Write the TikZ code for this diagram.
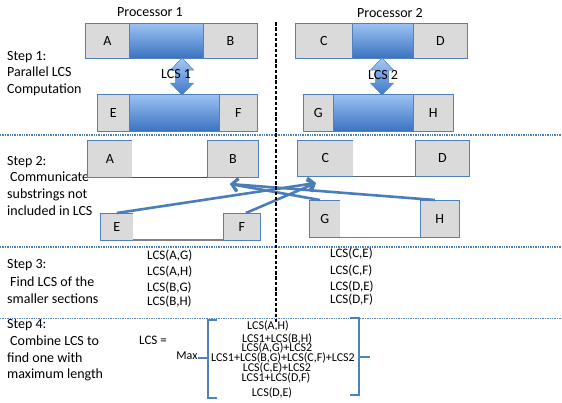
\documentclass[tikz,border=0pt]{standalone}
\usepackage{fontspec}
\setmainfont{Carlito}
\usetikzlibrary{arrows.meta}
\definecolor{boxblue}{HTML}{4F81BD}
\definecolor{granite}{HTML}{DADADA}
\definecolor{bartop}{HTML}{9CC2F2}
\definecolor{barbot}{HTML}{3A72C0}
\definecolor{sepblue}{HTML}{4F81BD}
\definecolor{arrblue}{HTML}{4A7EBB}
\definecolor{arrtop}{HTML}{A4C8F4}
\definecolor{arrbot}{HTML}{3F78C6}
\begin{document}
\begin{tikzpicture}[x=1pt,y=-1pt,
  sz/.style 2 args={minimum width=#1pt, minimum height=#2pt},
  seg/.style={draw=boxblue, line width=0.7pt, inner sep=0pt, anchor=north west,
    font=\fontsize{14}{16}\selectfont},
  gseg/.style={seg, fill=granite},
  bseg/.style={seg, top color=bartop, bottom color=barbot},
  wseg/.style={inner sep=0pt, anchor=north west, fill=white},
  txt/.style={inner sep=0pt, anchor=west, text height=9.5pt, text depth=3pt,
    font=\fontsize{14}{16}\selectfont},
  ctxt/.style={inner sep=0pt, text height=9.5pt, text depth=3pt,
    font=\fontsize{14}{16}\selectfont},
  itm/.style={inner sep=0pt, anchor=west, text height=9pt, text depth=2.5pt,
    font=\fontsize{13}{15}\selectfont},
  frm/.style={inner sep=0pt, text height=8.5pt, text depth=2.5pt,
    font=\fontsize{12}{13}\selectfont},
  sep/.style={draw=sepblue, line width=1.8pt, dash pattern=on 1.4pt off 1pt},
  comm/.style={draw=arrblue, line width=2.6pt, -{Straight Barb[length=6pt,width=13pt]}},
  brk/.style={draw=boxblue, line width=2.6pt},
  dblarr/.pic={
    \shade[top color=arrtop, bottom color=arrbot, draw=boxblue, line width=0.5pt]
      (0,0) -- (11.5,12) -- (6.5,12) -- (6.5,25) -- (11.5,25) -- (0,37)
      -- (-11.5,25) -- (-6.5,25) -- (-6.5,12) -- (-11.5,12) -- cycle;
  }
]
\useasboundingbox (0,0) rectangle (562,402);

% separators
\draw[sep] (0,135) -- (562,135);
\draw[sep] (0,247) -- (562,247);
\draw[sep] (0,318.5) -- (562,318.5);

% processor headings
\node[ctxt] (p1) at (150,13) {Processor 1};
\node[ctxt] (p2) at (390,14) {Processor 2};

% step labels
\node[txt] (s1a) at (7,57) {Step 1:};
\node[txt] (s1b) at (7,73) {Parallel LCS};
\node[txt] (s1c) at (7,90) {Computation};
\node[txt] (s2a) at (7,162) {Step 2:};
\node[txt] (s2b) at (10,178) {Communicate};
\node[txt] (s2c) at (7,195) {substrings not};
\node[txt] (s2d) at (7,212) {included in LCS};
\node[txt] (s3a) at (7,265) {Step 3:};
\node[txt] (s3b) at (10,283) {Find LCS of the};
\node[txt] (s3c) at (7,300) {smaller sections};
\node[txt] (s4a) at (7,325) {Step 4:};
\node[txt] (s4b) at (10,342) {Combine LCS to};
\node[txt] (s4c) at (7,359) {find one with};
\node[txt] (s4d) at (7,375) {maximum length};

% step 1 boxes, processor 1
\node[gseg, sz={44}{35}] (a1) at (85,23) {A};
\node[bseg, sz={74}{35}] (m1) at (129,23) {};
\node[gseg, sz={54}{35}] (b1) at (203,23) {B};
\node[gseg, sz={32}{37}] (e1) at (97,94) {E};
\node[bseg, sz={90}{37}] (n1) at (129,94) {};
\node[gseg, sz={38}{37}] (f1) at (219,94) {F};
% step 1 boxes, processor 2
\node[gseg, sz={57}{35}] (c1) at (295,23) {C};
\node[bseg, sz={61}{35}] (m2) at (352,23) {};
\node[gseg, sz={54}{35}] (d1) at (413,23) {D};
\node[gseg, sz={30}{37}] (g1) at (303,94) {G};
\node[bseg, sz={80}{37}] (n2) at (333,94) {};
\node[gseg, sz={40}{37}] (h1) at (413,94) {H};

% double arrows
\pic at (182,58) {dblarr};
\pic at (382,58) {dblarr};
\node[ctxt] (l1) at (176,75) {LCS 1};
\node[ctxt] (l2) at (383,76) {LCS 2};

% step 2 boxes
\node[gseg, sz={45}{37}] (a2) at (87,140) {A};
\node[wseg, sz={75}{37}] (w1) at (132,140) {};
\node[gseg, sz={51}{37}] (b2) at (207,140) {B};
\node[gseg, sz={33}{27}] (e2) at (100,213) {E};
\node[wseg, sz={90}{27}] (w2) at (133,213) {};
\node[gseg, sz={37}{27}] (f2) at (223,213) {F};
\node[gseg, sz={56}{36}] (c2) at (297,140) {C};
\node[wseg, sz={62}{36}] (w3) at (353,140) {};
\node[gseg, sz={54}{36}] (d2) at (415,140) {D};
\node[gseg, sz={31}{37}] (g2) at (309,200) {G};
\node[wseg, sz={80}{37}] (w4) at (340,200) {};
\node[gseg, sz={39}{37}] (h2) at (420,200) {H};
\draw[black!70, line width=0.8pt] (w1.south west) -- (w1.south east);
\draw[black!50, line width=2pt] (w2.south west) -- (w2.south east);
\draw[black!60, line width=0.8pt] (w3.south west) -- (w3.south east);
\draw[black!50, line width=1.2pt] (w4.south west) -- (w4.south east);

% communication arrows
\coordinate (tipR) at (316,183);
\coordinate (tipL) at (230,184);
\draw[comm] (e2.north) -- (tipR);
\draw[comm] ([xshift=4pt]f2.north) -- (tipR);
\draw[comm] ([xshift=-5pt]h2.north) -- (tipL);
\draw[comm] ([xshift=-5pt]g2.north) -- (tipL);

% processor divider
\draw[black, line width=1.8pt, dash pattern=on 3.5pt off 1.8pt] (276,22) -- (276,323);

% step 3 items
\node[itm] (ag) at (147,256) {LCS(A,G)};
\node[itm] (ah) at (147,272) {LCS(A,H)};
\node[itm] (bg) at (147,288) {LCS(B,G)};
\node[itm] (bh) at (147,302) {LCS(B,H)};
\node[itm] (ce) at (330,254) {LCS(C,E)};
\node[itm] (cf) at (330,271) {LCS(C,F)};
\node[itm] (de) at (330,287) {LCS(D,E)};
\node[itm] (df) at (330,300) {LCS(D,F)};

% step 4
\node[itm, anchor=center] (lcs) at (153,341) {LCS =};
\node[frm] (mx) at (187,356) {Max};
\draw[brk] (217,320) -- (208,320) -- (208,398) -- (217,398);
\draw[brk] (198,358) -- (208,358);
\draw[brk] (350,318) -- (359,318) -- (359,395) -- (350,395);
\draw[brk] (359,357) -- (370,357);
\node[frm] (fm1) at (268,326) {LCS(A,H)};
\node[frm] (fm2) at (277,339) {LCS1+LCS(B,H)};
\node[frm] (fm3) at (277,348.5) {LCS(A,G)+LCS2};
\node[frm] (fm4) at (283,358) {LCS1+LCS(B,G)+LCS(C,F)+LCS2};
\node[frm] (fm5) at (277,368) {LCS(C,E)+LCS2};
\node[frm] (fm6) at (276,378) {LCS1+LCS(D,F)};
\node[frm] (fm7) at (272,393) {LCS(D,E)};
\end{tikzpicture}
\end{document}
